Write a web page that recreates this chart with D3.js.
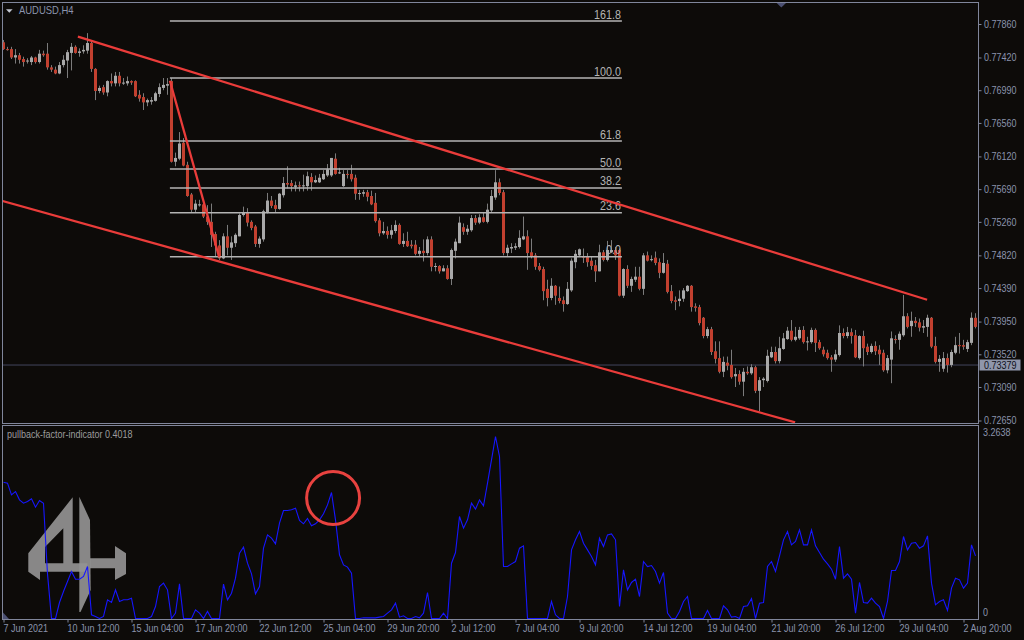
<!DOCTYPE html>
<html><head><meta charset="utf-8"><title>AUDUSD,H4</title>
<script src="https://cdn.jsdelivr.net/npm/d3@7/dist/d3.min.js"></script>
<style>
html,body{margin:0;padding:0;background:#0d0b09;overflow:hidden}
svg{display:block}
svg text{font-family:"Liberation Sans",Arial,Helvetica,sans-serif}
.sq{transform-box:fill-box;transform-origin:0% 50%;transform:scaleX(0.9)}
.sqr{transform-box:fill-box;transform-origin:100% 50%;transform:scaleX(0.86)}
</style></head><body>
<svg id="chart" width="1024" height="640"></svg>
<script>
// ---------------- DATA ----------------
const symbolTitle = "AUDUSD,H4";
const indicatorTitle = "pullback-factor-indicator 0.4018";
const timeLabels = ["7 Jun 2021","10 Jun 12:00","15 Jun 04:00","17 Jun 20:00","22 Jun 12:00","25 Jun 04:00","29 Jun 20:00","2 Jul 12:00","7 Jul 04:00","9 Jul 20:00","14 Jul 12:00","19 Jul 04:00","21 Jul 20:00","26 Jul 12:00","29 Jul 04:00","2 Aug 20:00"];
const priceTicks = [0.77860,0.77420,0.76990,0.76560,0.76120,0.75690,0.75260,0.74820,0.74390,0.73950,0.73520,0.73090,0.72650];
const indicatorTicks = [0, 3.2638];
const currentPrice = 0.73379;

const opens = [
0.7762,0.7753,0.7753,0.7742,0.7745,0.7740,0.7737,0.7736,0.7742,0.7736,
0.7747,0.7747,0.7729,0.7726,0.7721,0.7732,0.7738,0.7748,0.7756,0.7748,
0.7750,0.7751,0.7761,0.7727,0.7698,0.7703,0.7696,0.7711,0.7708,0.7718,
0.7708,0.7708,0.7711,0.7711,0.7693,0.7690,0.7683,0.7684,0.7685,0.7694,
0.7702,0.7705,0.7711,0.7605,0.7609,0.7630,0.7601,0.7562,0.7542,0.7548,
0.7549,0.7533,0.7526,0.7510,0.7495,0.7478,0.7507,0.7492,0.7498,0.7507,
0.7535,0.7539,0.7526,0.7520,0.7497,0.7503,0.7539,0.7554,0.7548,0.7543,
0.7561,0.7577,0.7577,0.7572,0.7574,0.7573,0.7573,0.7585,0.7578,0.7578,
0.7582,0.7587,0.7587,0.7609,0.7590,0.7573,0.7589,0.7589,0.7584,0.7563,
0.7563,0.7565,0.7560,0.7551,0.7528,0.7511,0.7514,0.7509,0.7514,0.7522,
0.7497,0.7501,0.7496,0.7496,0.7484,0.7488,0.7485,0.7503,0.7467,0.7468,
0.7461,0.7465,0.7451,0.7488,0.7498,0.7519,0.7513,0.7515,0.7531,0.7525,
0.7532,0.7526,0.7541,0.7558,0.7578,0.7565,0.7485,0.7491,0.7492,0.7493,
0.7503,0.7507,0.7486,0.7482,0.7468,0.7464,0.7438,0.7426,0.7442,0.7426,
0.7423,0.7418,0.7436,0.7473,0.7482,0.7481,0.7480,0.7475,0.7469,0.7461,
0.7486,0.7476,0.7486,0.7489,0.7489,0.7429,0.7464,0.7442,0.7450,0.7454,
0.7438,0.7482,0.7476,0.7479,0.7473,0.7459,0.7471,0.7435,0.7423,0.7422,
0.7425,0.7435,0.7442,0.7415,0.7414,0.7400,0.7376,0.7385,0.7356,0.7347,
0.7329,0.7341,0.7338,0.7323,0.7326,0.7316,0.7329,0.7327,0.7335,0.7304,
0.7318,0.7317,0.7348,0.7355,0.7343,0.7359,0.7372,0.7383,0.7371,0.7373,
0.7384,0.7368,0.7368,0.7384,0.7368,0.7358,0.7354,0.7348,0.7345,0.7351,
0.7380,0.7376,0.7381,0.7377,0.7347,0.7376,0.7362,0.7355,0.7363,0.7358,
0.7354,0.7331,0.7345,0.7372,0.7371,0.7377,0.7402,0.7389,0.7396,0.7394,
0.7387,0.7388,0.7400,0.7363,0.7342,0.7333,0.7347,0.7338,0.7354,0.7364,
0.7364,0.7359,0.7367,0.7400];
const highs = [
0.7765,0.7756,0.7756,0.7753,0.7748,0.7743,0.7741,0.7744,0.7743,0.7752,
0.7751,0.7761,0.7732,0.7730,0.7736,0.7745,0.7752,0.7761,0.7758,0.7754,
0.7758,0.7774,0.7763,0.7728,0.7705,0.7706,0.7712,0.7721,0.7723,0.7723,
0.7715,0.7717,0.7712,0.7712,0.7699,0.7695,0.7688,0.7690,0.7697,0.7708,
0.7715,0.7715,0.7715,0.7617,0.7644,0.7636,0.7605,0.7564,0.7555,0.7555,
0.7555,0.7548,0.7550,0.7513,0.7502,0.7511,0.7522,0.7507,0.7511,0.7537,
0.7546,0.7544,0.7528,0.7522,0.7507,0.7542,0.7564,0.7560,0.7555,0.7564,
0.7585,0.7599,0.7581,0.7579,0.7579,0.7588,0.7592,0.7590,0.7587,0.7589,
0.7594,0.7602,0.7610,0.7616,0.7597,0.7594,0.7594,0.7601,0.7588,0.7568,
0.7568,0.7568,0.7567,0.7564,0.7531,0.7526,0.7520,0.7522,0.7528,0.7524,
0.7511,0.7513,0.7502,0.7502,0.7493,0.7503,0.7507,0.7507,0.7472,0.7469,
0.7469,0.7469,0.7491,0.7504,0.7533,0.7524,0.7522,0.7535,0.7535,0.7536,
0.7538,0.7550,0.7568,0.7594,0.7583,0.7568,0.7496,0.7498,0.7498,0.7515,
0.7533,0.7515,0.7504,0.7485,0.7472,0.7467,0.7450,0.7452,0.7443,0.7441,
0.7428,0.7447,0.7478,0.7489,0.7491,0.7491,0.7485,0.7480,0.7476,0.7496,
0.7489,0.7501,0.7502,0.7493,0.7491,0.7465,0.7469,0.7454,0.7467,0.7467,
0.7485,0.7487,0.7482,0.7487,0.7478,0.7485,0.7476,0.7443,0.7428,0.7436,
0.7439,0.7443,0.7443,0.7419,0.7417,0.7401,0.7388,0.7388,0.7369,0.7369,
0.7349,0.7349,0.7358,0.7334,0.7331,0.7334,0.7336,0.7339,0.7337,0.7322,
0.7322,0.7358,0.7362,0.7362,0.7375,0.7380,0.7388,0.7397,0.7388,0.7388,
0.7389,0.7375,0.7387,0.7386,0.7371,0.7362,0.7358,0.7351,0.7358,0.7390,
0.7386,0.7388,0.7386,0.7384,0.7377,0.7383,0.7366,0.7366,0.7369,0.7364,
0.7358,0.7351,0.7382,0.7377,0.7382,0.7430,0.7406,0.7408,0.7401,0.7399,
0.7397,0.7404,0.7401,0.7375,0.7351,0.7355,0.7353,0.7358,0.7375,0.7380,
0.7371,0.7371,0.7407,0.7406];
const lows = [
0.7752,0.7751,0.7740,0.7734,0.7734,0.7730,0.7734,0.7732,0.7734,0.7734,
0.7743,0.7726,0.7723,0.7720,0.7720,0.7729,0.7715,0.7725,0.7747,0.7743,
0.7747,0.7747,0.7723,0.7686,0.7695,0.7693,0.7691,0.7704,0.7704,0.7704,
0.7706,0.7705,0.7706,0.7690,0.7684,0.7673,0.7678,0.7680,0.7684,0.7690,
0.7699,0.7693,0.7604,0.7599,0.7607,0.7599,0.7559,0.7539,0.7539,0.7546,
0.7531,0.7522,0.7493,0.7480,0.7476,0.7477,0.7482,0.7476,0.7493,0.7507,
0.7533,0.7520,0.7515,0.7493,0.7492,0.7500,0.7537,0.7544,0.7539,0.7542,
0.7558,0.7570,0.7566,0.7566,0.7566,0.7566,0.7567,0.7567,0.7577,0.7577,
0.7581,0.7585,0.7585,0.7588,0.7589,0.7572,0.7583,0.7579,0.7555,0.7555,
0.7559,0.7553,0.7548,0.7525,0.7507,0.7509,0.7504,0.7504,0.7511,0.7496,
0.7493,0.7493,0.7491,0.7482,0.7480,0.7474,0.7482,0.7461,0.7461,0.7458,
0.7461,0.7450,0.7443,0.7478,0.7498,0.7509,0.7509,0.7513,0.7522,0.7523,
0.7525,0.7524,0.7539,0.7555,0.7561,0.7482,0.7481,0.7485,0.7489,0.7491,
0.7502,0.7463,0.7478,0.7463,0.7461,0.7423,0.7415,0.7423,0.7417,0.7419,
0.7408,0.7417,0.7434,0.7465,0.7480,0.7472,0.7467,0.7463,0.7447,0.7461,
0.7474,0.7474,0.7485,0.7476,0.7428,0.7426,0.7439,0.7434,0.7447,0.7436,
0.7430,0.7474,0.7474,0.7469,0.7452,0.7458,0.7432,0.7419,0.7410,0.7415,
0.7421,0.7434,0.7408,0.7408,0.7390,0.7373,0.7373,0.7351,0.7340,0.7327,
0.7322,0.7331,0.7320,0.7309,0.7312,0.7297,0.7325,0.7325,0.7301,0.7277,
0.7309,0.7315,0.7347,0.7340,0.7340,0.7358,0.7371,0.7369,0.7369,0.7371,
0.7366,0.7357,0.7366,0.7355,0.7358,0.7349,0.7345,0.7329,0.7342,0.7349,
0.7373,0.7373,0.7366,0.7347,0.7345,0.7336,0.7351,0.7353,0.7351,0.7338,
0.7329,0.7327,0.7314,0.7366,0.7358,0.7375,0.7386,0.7375,0.7388,0.7382,
0.7380,0.7375,0.7360,0.7340,0.7329,0.7329,0.7328,0.7335,0.7352,0.7353,
0.7358,0.7355,0.7364,0.7386];
const closes = [
0.7753,0.7752,0.7742,0.7745,0.7739,0.7736,0.7738,0.7742,0.7736,0.7747,
0.7745,0.7729,0.7726,0.7721,0.7732,0.7739,0.7749,0.7756,0.7748,0.7750,
0.7752,0.7761,0.7727,0.7698,0.7702,0.7696,0.7711,0.7708,0.7718,0.7708,
0.7709,0.7711,0.7709,0.7691,0.7688,0.7683,0.7686,0.7686,0.7695,0.7703,
0.7706,0.7707,0.7605,0.7610,0.7629,0.7600,0.7560,0.7542,0.7550,0.7549,
0.7533,0.7526,0.7509,0.7495,0.7478,0.7507,0.7492,0.7499,0.7509,0.7535,
0.7539,0.7525,0.7518,0.7497,0.7504,0.7540,0.7554,0.7547,0.7543,0.7563,
0.7577,0.7575,0.7573,0.7574,0.7573,0.7574,0.7586,0.7578,0.7581,0.7584,
0.7589,0.7595,0.7610,0.7589,0.7591,0.7589,0.7588,0.7582,0.7563,0.7564,
0.7565,0.7559,0.7549,0.7527,0.7511,0.7514,0.7509,0.7515,0.7522,0.7497,
0.7501,0.7494,0.7494,0.7484,0.7488,0.7485,0.7503,0.7467,0.7468,0.7461,
0.7465,0.7451,0.7489,0.7500,0.7525,0.7513,0.7517,0.7531,0.7525,0.7532,
0.7526,0.7542,0.7560,0.7578,0.7564,0.7485,0.7492,0.7493,0.7494,0.7505,
0.7507,0.7485,0.7480,0.7467,0.7463,0.7435,0.7426,0.7442,0.7429,0.7422,
0.7418,0.7438,0.7475,0.7484,0.7490,0.7479,0.7473,0.7468,0.7461,0.7486,
0.7476,0.7489,0.7489,0.7482,0.7429,0.7464,0.7442,0.7451,0.7454,0.7438,
0.7482,0.7475,0.7477,0.7472,0.7459,0.7472,0.7434,0.7422,0.7421,0.7425,
0.7436,0.7442,0.7414,0.7413,0.7393,0.7376,0.7385,0.7355,0.7346,0.7329,
0.7342,0.7337,0.7322,0.7326,0.7316,0.7329,0.7327,0.7335,0.7304,0.7318,
0.7320,0.7350,0.7355,0.7343,0.7360,0.7373,0.7383,0.7371,0.7375,0.7384,
0.7368,0.7369,0.7384,0.7367,0.7360,0.7352,0.7347,0.7345,0.7352,0.7380,
0.7376,0.7381,0.7376,0.7348,0.7376,0.7360,0.7355,0.7363,0.7356,0.7352,
0.7331,0.7347,0.7373,0.7371,0.7379,0.7402,0.7388,0.7396,0.7393,0.7387,
0.7389,0.7400,0.7362,0.7342,0.7346,0.7347,0.7338,0.7355,0.7364,0.7363,
0.7362,0.7368,0.7400,0.7388];

const pullback = [
2.445,2.427,2.218,2.277,2.128,2.068,2.098,2.146,1.996,2.116,
2.068,0.8,0,0,0.287,0.484,0.663,0.843,0.705,0.705,
0.753,0.932,0.066,0.036,0,0.036,0.335,0.287,0.514,0.305,
0.335,0.335,0.365,0,0,0,0,0.036,0.215,0.574,
0.634,0.514,0,0.096,0.622,0,0,0,0.155,0.096,
0,0.126,0,0,0,0.616,0.335,0.454,0.723,1.172,
1.279,0.992,0.801,0.442,0.574,1.261,1.500,1.441,1.339,1.709,
1.937,1.937,1.949,1.978,1.757,1.698,1.793,1.662,1.698,1.769,
1.877,2.038,2.259,1.769,1.142,0.962,0.921,0.813,0,0,
0.012,0.012,0.012,0.012,0.024,0.036,0.096,0.155,0.275,0.024,
0.048,0,0,0.036,0.012,0.096,0.466,0,0,0,
0.096,0,0.992,1.183,1.829,1.620,1.769,2.068,1.961,2.128,
2.020,2.427,2.845,3.2638,2.905,0.932,0.932,0.980,1.022,1.261,
1.303,0,0,0,0,0,0,0.305,0.066,0,
0,0.394,1.231,1.411,1.560,1.351,1.231,1.112,0.962,1.441,
1.291,1.500,1.518,1.411,0.215,0.873,0.514,0.646,0.705,0.394,
1.022,0.932,0.950,0.843,0.634,0.825,0.096,0,0,0.126,
0.305,0.394,0,0,0,0,0.143,0,0,0,
0.227,0.155,0.024,0.036,0,0.215,0.227,0.359,0,0.275,
0.287,0.932,1.022,0.843,1.124,1.411,1.560,1.321,1.381,1.590,
1.321,1.321,1.590,1.303,1.183,1.064,0.980,0.885,0.705,1.291,
0.723,0.801,0.705,0.096,0.646,0.287,0.275,0.365,0.275,0.215,
0,0.305,0.861,0.861,1.022,1.470,1.231,1.351,1.363,1.261,
1.303,1.482,0.634,0.245,0.305,0.335,0.143,0.544,0.723,0.693,
0.544,0.634,1.321,1.124];

const fibLabels = ["161.8","100.0","61.8","50.0","38.2","23.6","0.0"];
const fibPrices = [0.77899,0.77150,0.76322,0.75954,0.75705,0.75380,0.74802];
const fibBars = [41.6, 154.6];
// trend lines: [bar, price] pairs
const upperTrend = [[18.6,0.77693],[230.9,0.74237]];
const lowerTrend = [[-0.45,0.75538],[197.9,0.72626]];
const swingLine  = [[41.6,0.77115],[53.9,0.74798]];
const circleMark = {bar:82.4, value:2.16};

// ---------------- DRAW ----------------
const C = {bg:"#0d0b09", frame:"#80869b", axisText:"#8b93ac", bull:"#a9a9a9", bear:"#c2402f",
  wick:"#7b7b7b", fib:"#b4b4b4", red:"#ea3c3a", blue:"#1616ff", priceLine:"#43465d", logo:"#929292"};
const svg = d3.select("#chart");
const x  = d3.scaleLinear().domain([0,243]).range([3.5,975.5]);
const y  = d3.scaleLinear().domain([0.77860,0.72650]).range([24,420.5]);
const yi = d3.scaleLinear().domain([0,3.2638]).range([618.5,436.5]);

svg.append("rect").attr("width",1024).attr("height",640).attr("fill",C.bg);
const defs = svg.append("defs");
defs.append("clipPath").attr("id","cMain").append("rect").attr("x",3).attr("y",3).attr("width",975).attr("height",420);
defs.append("clipPath").attr("id","cInd").append("rect").attr("x",3).attr("y",426).attr("width",975).attr("height",193);

// ---- main panel ----
const main = svg.append("g").attr("clip-path","url(#cMain)");
main.append("line").attr("x1",3).attr("x2",978)
  .attr("y1",y(currentPrice)).attr("y2",y(currentPrice))
  .attr("stroke",C.priceLine).attr("stroke-width",1);

const idx = d3.range(opens.length);
main.append("g").selectAll("line").data(idx).join("line")
  .attr("x1",i=>x(i)).attr("x2",i=>x(i))
  .attr("y1",i=>y(highs[i])).attr("y2",i=>y(lows[i]))
  .attr("stroke",C.wick).attr("stroke-width",1);
main.append("g").selectAll("rect").data(idx).join("rect")
  .attr("x",i=>x(i)-1.5).attr("width",3)
  .attr("y",i=>Math.min(y(opens[i]),y(closes[i])))
  .attr("height",i=>Math.max(1,Math.abs(y(opens[i])-y(closes[i]))))
  .attr("fill",i=>closes[i]>=opens[i]?C.bull:C.bear);

// fibonacci
const fib = main.append("g");
fib.selectAll("line").data(fibPrices).join("line")
  .attr("x1",x(fibBars[0])).attr("x2",x(fibBars[1]))
  .attr("y1",d=>y(d)).attr("y2",d=>y(d))
  .attr("stroke",C.fib).attr("stroke-width",1.6);
fib.selectAll("text").data(fibPrices).join("text")
  .attr("class","sqr")
  .attr("x",x(fibBars[1])-1).attr("y",d=>y(d)-2.5)
  .attr("text-anchor","end").attr("font-size","12.5px").attr("fill",C.fib)
  .text((d,i)=>fibLabels[i]);

// trend lines
[upperTrend, lowerTrend, swingLine].forEach(t=>{
  main.append("line")
    .attr("x1",x(t[0][0])).attr("y1",y(t[0][1]))
    .attr("x2",x(t[1][0])).attr("y2",y(t[1][1]))
    .attr("stroke",C.red).attr("stroke-width",2.3);
});

// ---- indicator panel ----
const ind = svg.append("g").attr("clip-path","url(#cInd)");
const logo = [
  "M72.7,497.3 L72.7,563.3 L87.3,563.3 L87.3,571.7 L40,571.7 L40,580 L28.3,571.7 L28.3,553.3 Z M63.3,528.3 L63.3,563.3 L45,563.3 L45,547 Z",
  "M79.3,496.7 L90,520 L90.7,590 L80.5,612 L79.3,612 Z",
  "M90,558.3 L115,558.3 L115,546 L126,553.3 L126,574 L115,580 L115,568.3 L90,568.3 Z"
];
ind.append("g").selectAll("path").data(logo).join("path")
  .attr("d",d=>d).attr("fill",C.logo).attr("fill-rule","evenodd").attr("opacity",0.92);
ind.append("path").datum(pullback)
  .attr("d",d3.line().x((d,i)=>x(i)).y(d=>yi(d)))
  .attr("fill","none").attr("stroke",C.blue).attr("stroke-width",1.1);
ind.append("circle")
  .attr("cx",x(circleMark.bar)).attr("cy",yi(circleMark.value)).attr("r",26.5)
  .attr("fill","none").attr("stroke","#e8423f").attr("stroke-width",3);

// ---- frames ----
svg.append("rect").attr("x",2.5).attr("y",2.5).attr("width",976).attr("height",421)
  .attr("fill","none").attr("stroke",C.frame);
svg.append("rect").attr("x",2.5).attr("y",425.5).attr("width",976).attr("height",194)
  .attr("fill","none").attr("stroke",C.frame);

// ---- axes ----
function styleAxis(g){
  g.select(".domain").remove();
  g.selectAll(".tick line").attr("stroke",C.frame);
  g.selectAll(".tick text").attr("fill",C.axisText).attr("font-size","10px").attr("class","sq");
}
const ay = svg.append("g").attr("transform","translate(978.5,0)")
  .call(d3.axisRight(y).tickValues(priceTicks).tickFormat(d3.format(".5f")).tickSize(3).tickPadding(2.5));
styleAxis(ay);

const ayi = svg.append("g").attr("transform","translate(978.5,0)")
  .call(d3.axisRight(yi).tickValues(indicatorTicks).tickFormat(d=>d===0?"0":d3.format(".4f")(d)).tickSize(0).tickPadding(4.5));
styleAxis(ayi);
ayi.selectAll(".tick text").attr("y",d=>d===0?-6.5:-3.8);

const ax = svg.append("g").attr("transform","translate(0,619.5)")
  .call(d3.axisBottom(x).tickValues(d3.range(0,244,16)).tickFormat((d,i)=>timeLabels[i]).tickSize(3).tickPadding(2.5));
styleAxis(ax);
ax.selectAll(".tick text").attr("text-anchor","start").attr("dx",-0.5);

// current price tag
const cpY = y(currentPrice);
svg.append("rect").attr("x",979.5).attr("y",cpY-5.5).attr("width",41).attr("height",11).attr("fill","#8f96ab");
svg.append("text").attr("class","sq").attr("x",984).attr("y",cpY).attr("dy","0.35em")
  .attr("font-size","10px").attr("fill","#0e0f18").text(d3.format(".5f")(currentPrice));

// ---- titles & markers ----
svg.append("path").attr("d","M6,9.3 L12.6,9.3 L9.3,12.8 Z").attr("fill","#c2c6d0");
svg.append("text").attr("class","sq").attr("x",19).attr("y",14.4)
  .attr("font-size","10.5px").attr("fill",C.axisText).text(symbolTitle);
svg.append("text").attr("class","sq").attr("x",7).attr("y",438)
  .attr("font-size","10px").attr("fill","#9c9c9c").text(indicatorTitle);
svg.append("path").attr("d","M776.7,3 L786,3 L781.3,7.4 Z").attr("fill","#4b5072");
svg.append("path").attr("d","M3,612.5 L3,619 L9,619 Z").attr("fill","#4b5072");
</script>
</body></html>
